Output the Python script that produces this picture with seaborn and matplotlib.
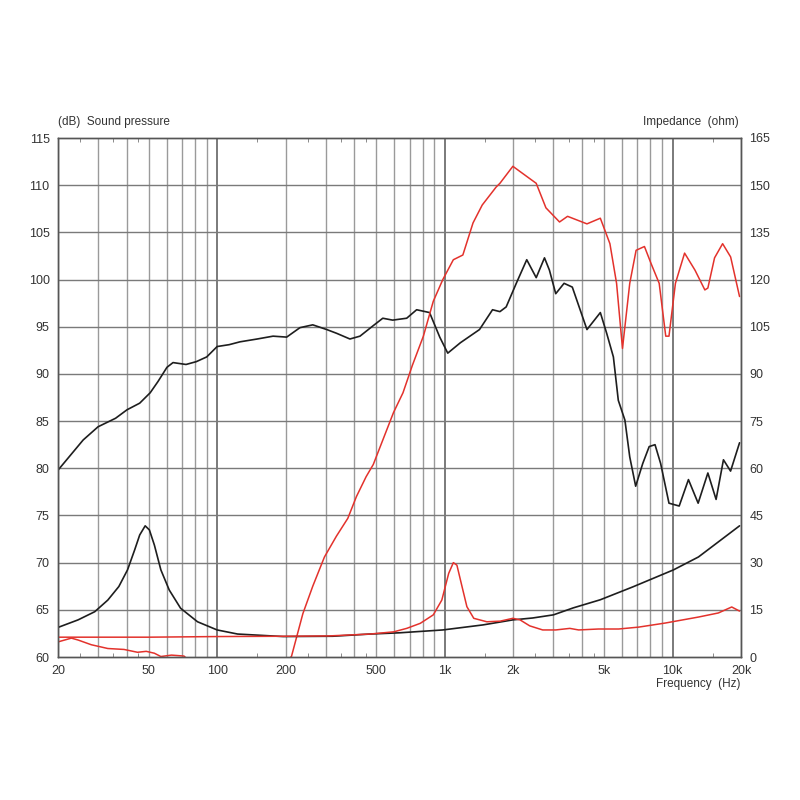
import numpy as np
import pandas as pd
import matplotlib
matplotlib.use("Agg")
import matplotlib.pyplot as plt
import matplotlib.ticker as mticker
import seaborn as sns

# Woofer sound pressure (dB, left axis)
spl_a_hz = [20, 25.8, 30, 35.8, 40.2, 45.7, 50.8, 55, 60.2, 64, 73, 81, 90, 100, 113, 126,
            150, 176, 202, 231, 263, 303, 335, 383, 424, 484, 534, 590, 680, 752, 857,
            950, 1030, 1170, 1420, 1620, 1746, 1860, 2060, 2290, 2520, 2740, 2880, 3070,
            3340, 3630, 4210, 4820, 5140, 5500, 5780, 6180, 6490, 6890, 7400, 7900, 8380,
            8870, 9650, 10700, 11750, 12960, 14300, 15540, 16740, 17990, 19700]
spl_a_db = [79.8, 83.0, 84.4, 85.3, 86.2, 86.9, 88.0, 89.2, 90.7, 91.2, 91.0, 91.3, 91.8,
            92.9, 93.1, 93.4, 93.7, 94.0, 93.9, 94.9, 95.2, 94.7, 94.3, 93.7, 94.0, 95.1,
            95.9, 95.7, 95.9, 96.8, 96.5, 93.9, 92.2, 93.3, 94.7, 96.8, 96.6, 97.1, 99.6,
            102.1, 100.2, 102.3, 101.0, 98.5, 99.6, 99.2, 94.7, 96.5, 94.3, 91.8, 87.2,
            85.1, 81.2, 78.1, 80.5, 82.3, 82.5, 80.5, 76.3, 76.0, 78.8, 76.3, 79.5, 76.7,
            80.9, 79.7, 82.7]

# Tweeter sound pressure (dB, left axis)
spl_b_hz = [20, 22.9, 24.5, 28, 33.1, 39, 44.7, 48.8, 53, 56.6, 63, 71.5, 80, 110, 150,
            190, 212, 238, 263, 296, 334, 375, 409, 451, 485, 595, 655, 720, 805, 890, 980,
            1090, 1200, 1330, 1460, 1680, 1746, 1990, 2390, 2520, 2780, 3190, 3460, 4210,
            4820, 5310, 5680, 6030, 6490, 6920, 7530, 8050, 8740, 9340, 9650, 10300, 11300,
            12550, 13870, 14300, 15300, 16600, 18000, 19700]
spl_b_db = [61.6, 62.0, 61.8, 61.3, 60.9, 60.8, 60.5, 60.6, 60.4, 60.05, 60.2, 60.1, 59.0,
            58.0, 58.0, 59.0, 60.05, 64.6, 67.5, 70.6, 72.8, 74.7, 77.0, 79.1, 80.4, 85.9,
            88.0, 90.9, 94.0, 97.7, 100.0, 102.1, 102.6, 106.0, 107.9, 109.8, 110.2, 112.0,
            110.6, 110.2, 107.6, 106.1, 106.7, 105.9, 106.5, 103.8, 99.6, 92.7, 99.6, 103.1,
            103.5, 101.7, 99.6, 94.0, 94.0, 99.6, 102.8, 101.0, 98.9, 99.1, 102.3, 103.8,
            102.4, 98.2]

# Woofer impedance (ohm, right axis)
imp_a_hz = [20, 24.5, 29, 33.1, 37, 40.4, 43.4, 45.7, 48.3, 50.4, 53, 56.6, 61.6, 69.1, 82,
            100, 123, 195, 322, 470, 635, 980, 1470, 1990, 2430, 3000, 3660, 4820, 6700,
            10100, 13000, 19700]
imp_a_ohm = [9.4, 11.8, 14.4, 18.1, 22.4, 27.7, 34.0, 38.8, 41.7, 40.4, 35.6, 27.7, 21.3,
             15.5, 11.2, 8.6, 7.3, 6.5, 6.6, 7.3, 7.7, 8.6, 10.2, 11.8, 12.4, 13.4, 15.6,
             18.2, 22.3, 27.7, 31.8, 41.7]

# Tweeter impedance (ohm, right axis)
imp_b_hz = [20, 50, 100, 200, 310, 470, 596, 680, 780, 890, 970, 1040, 1090, 1130, 1190,
            1250, 1340, 1530, 1750, 1990, 2140, 2360, 2690, 3070, 3540, 3870, 4730, 5800,
            7100, 9300, 13000, 15900, 18200, 19700]
imp_b_ohm = [6.3, 6.3, 6.5, 6.6, 6.7, 7.3, 8.0, 9.1, 10.7, 13.4, 18.1, 26.6, 30.0, 29.2,
             22.4, 16.0, 12.3, 11.2, 11.4, 12.3, 11.8, 9.9, 8.6, 8.6, 9.1, 8.6, 8.9, 8.9,
             9.5, 10.8, 12.7, 14.0, 15.9, 14.6]

x_ticks = [20, 50, 100, 200, 500, 1000, 2000, 5000, 10000, 20000]
x_labels = ["20", "50", "100", "200", "500", "1k", "2k", "5k", "10k", "20k"]

sns.set_style("white")
plt.rcParams["font.family"] = ["Liberation Sans", "DejaVu Sans"]

black = "#1e1e1e"
red = "#e3322c"
grid_c = "#9a9a9a"
text_c = "#333333"

fig = plt.figure(figsize=(8, 8), dpi=100)
ax = fig.add_axes([0.0725, 0.17875, 0.8538, 0.64875])
ax2 = ax.twinx()

sns.lineplot(x=spl_a_hz, y=spl_a_db, ax=ax, color=black, linewidth=1.2)
sns.lineplot(x=spl_b_hz, y=spl_b_db, ax=ax, color=red, linewidth=1.1)
sns.lineplot(x=imp_a_hz, y=imp_a_ohm, ax=ax2, color=black, linewidth=1.2)
sns.lineplot(x=imp_b_hz, y=imp_b_ohm, ax=ax2, color=red, linewidth=1.1)

ax.set_xscale("log")
ax.set_xlim(20, 20000)
ax.set_ylim(60, 115)
ax2.set_ylim(0, 165)

# grid lines
grid_f = [f * d for d in (10, 100, 1000, 10000) for f in range(1, 10)]
grid_f = [f for f in grid_f if 20 <= f <= 20000]
for f in grid_f:
    strong = f in (100, 1000, 10000)
    ax.axvline(f, color="#707070" if strong else grid_c,
               linewidth=1.3 if strong else 1.0, zorder=0)
for v in range(65, 115, 5):
    ax.axhline(v, color="#7a7a7a", linewidth=1.0, zorder=0)

ax.xaxis.set_major_locator(mticker.FixedLocator(x_ticks))
ax.xaxis.set_major_formatter(mticker.FixedFormatter(x_labels))
ax.xaxis.set_minor_locator(mticker.FixedLocator(
    [25, 35, 45, 150, 250, 350, 450, 1500, 2500, 3500, 4500, 15000]))
ax.xaxis.set_minor_formatter(mticker.NullFormatter())
ax.set_yticks(range(60, 116, 5))
ax2.set_yticks(range(0, 166, 15))

ax.tick_params(axis="x", which="major", length=0, labelsize=9, colors=text_c, pad=6)
ax.tick_params(axis="x", which="minor", direction="in", length=3, top=True,
               bottom=True, color="#777777")
ax.tick_params(axis="y", length=0, labelsize=9, colors=text_c, pad=6)
ax2.tick_params(axis="y", length=0, labelsize=9, colors=text_c, pad=6)
for a in (ax, ax2):
    a.set_xlabel("")
    a.set_ylabel("")
    for s in a.spines.values():
        s.set_color("#555555")
        s.set_linewidth(1.0)

fig.text(0.0725, 0.84, "(dB)  Sound pressure", fontsize=8.5, color=text_c,
         ha="left", va="bottom")
fig.text(0.924, 0.84, "Impedance  (ohm)", fontsize=8.5, color=text_c,
         ha="right", va="bottom")
fig.text(0.926, 0.145, "Frequency  (Hz)", fontsize=8.5, color=text_c,
         ha="right", va="center")

fig.savefig("out.png", dpi=100)
